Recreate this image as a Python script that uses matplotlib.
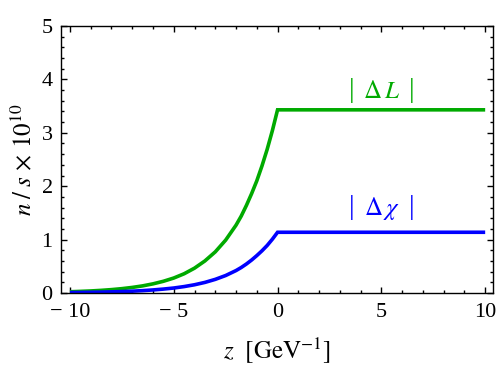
import matplotlib
matplotlib.use("Agg")
import matplotlib.pyplot as plt
from matplotlib.ticker import MultipleLocator, FixedLocator

plt.rcParams['font.family'] = ['Liberation Serif', 'DejaVu Serif']
plt.rcParams['mathtext.fontset'] = 'stix'

# data
z = [-10, -9.5, -9, -8.5, -8, -7.5, -7, -6.5, -6, -5.5, -5, -4.5, -4, -3.5, -3,
     -2.5, -2, -1.75, -1.5, -1.25, -1, -0.75, -0.5, -0.25, 0, 10]
delta_L = [0.023, 0.030, 0.038, 0.049, 0.063, 0.081, 0.104, 0.133, 0.171, 0.219,
           0.28, 0.36, 0.465, 0.60, 0.77, 0.99, 1.27, 1.44, 1.64, 1.86, 2.10,
           2.38, 2.69, 3.04, 3.43, 3.43]
delta_chi = [0.008, 0.010, 0.013, 0.016, 0.021, 0.027, 0.034, 0.044, 0.057, 0.073,
             0.093, 0.12, 0.154, 0.198, 0.255, 0.327, 0.42, 0.477, 0.543, 0.617,
             0.70, 0.79, 0.89, 1.007, 1.137, 1.137]
labels = [r'$\Delta\, L$', r'$\Delta\, \chi$']
label_x = [5.0, 5.0]
label_baseline = [3.65, 1.46]
bar_center = [3.79, 1.60]
xticks = [-10, -5, 0, 5, 10]
yticks = [0, 1, 2, 3, 4, 5]

green = (0.0, 0.667, 0.0)
blue = (0.0, 0.0, 1.0)

fig = plt.figure(figsize=(4.98, 3.85), dpi=100)
ax = fig.add_axes([0.1225, 0.239, 0.868, 0.6935])

ax.plot(z, delta_L, color=green, lw=2.6, solid_capstyle='butt', solid_joinstyle='miter')
ax.plot(z, delta_chi, color=blue, lw=2.6, solid_capstyle='butt', solid_joinstyle='miter')

for lab, lx, lb, bc, col in zip(labels, label_x, label_baseline, bar_center, [green, blue]):
    ax.text(lx, lb, lab, color=col, fontsize=18, ha='center', va='baseline')
    for off in (-21.5, 22.0):
        ax.annotate('|', xy=(lx, bc), xycoords='data', xytext=(off, 0),
                    textcoords='offset points', color=col, fontsize=20,
                    ha='center', va='center', fontfamily='Liberation Serif')

ax.set_xlim(-10.43, 10.39)
ax.set_ylim(0, 5)
ax.xaxis.set_major_locator(FixedLocator(xticks))
ax.yaxis.set_major_locator(FixedLocator(yticks))
ax.xaxis.set_minor_locator(MultipleLocator(1))
ax.yaxis.set_minor_locator(MultipleLocator(0.2))
ax.set_xticklabels([('\u2212 ' + str(abs(t))) if t < 0 else str(t) for t in xticks])
ax.set_yticklabels([str(t) for t in yticks])

ax.tick_params(which='both', direction='in', top=True, right=True, width=1, labelsize=16, color='black')
ax.tick_params(which='major', length=4.5)
ax.tick_params(axis='x', which='major', pad=7)
ax.tick_params(axis='y', which='major', pad=6)
ax.tick_params(which='minor', length=2.3)
for s in ax.spines.values():
    s.set_linewidth(1)

ax.set_xlabel(r'$z\ \ [\mathrm{GeV}^{-1}]$', fontsize=18, labelpad=10)
ax.set_ylabel(r'$n\;/\;s\,\times\,10^{10}$', fontsize=18, labelpad=4)

fig.savefig('out.png', dpi=100)
